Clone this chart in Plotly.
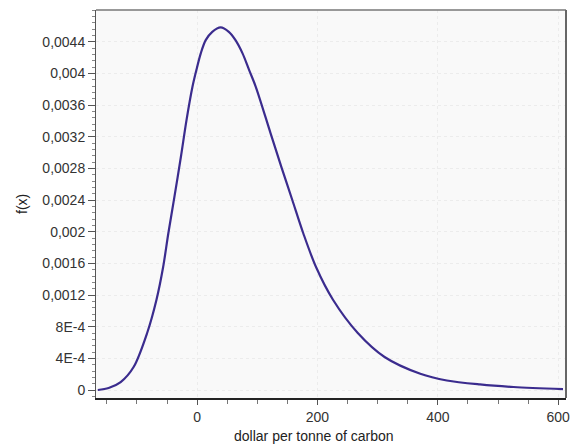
import plotly.graph_objects as go

# values
x_vals = [-165, -147, -127, -105.5, -83, -67.5, -56.5, -47.8, -37.9,
          -26.9, -17.6, -7.7, -1.2, 6.1, 14.3, 25.2, 39.1,
          52.7, 63.8, 75.5, 86.5, 97.5, 122, 140.1,
          158.2, 176.4, 197.8, 225.8, 267, 311.5, 370.9, 415, 470, 525.8, 608]
fx_vals = [0.0, 0.000025, 0.0001, 0.00029, 0.00072, 0.00114, 0.00155, 0.00198, 0.00243,
           0.002946, 0.003409, 0.00383, 0.004041, 0.004252, 0.004419, 0.004524, 0.00458,
           0.004524, 0.004419, 0.004252, 0.004041, 0.00383, 0.003245, 0.002816,
           0.0024, 0.00198, 0.00155, 0.00114, 0.00072, 0.000417, 0.000205, 0.00012, 0.00007, 0.000038, 0.000012]

y_tickvals = [0, 0.0004, 0.0008, 0.0012, 0.0016, 0.002, 0.0024, 0.0028, 0.0032,
              0.0036, 0.004, 0.0044]
y_ticktext = ["0", "4E-4", "8E-4", "0,0012", "0,0016", "0,002", "0,0024", "0,0028",
              "0,0032", "0,0036", "0,004", "0,0044"]
x_tickvals = [0, 200, 400, 600]
x_ticktext = ["0", "200", "400", "600"]

FONT = "Liberation Sans, Arial, sans-serif"

fig = go.Figure()
fig.add_trace(go.Scatter(
    x=x_vals, y=fx_vals, mode="lines",
    line=dict(color="#3b2c8e", width=2.2, shape="spline", smoothing=0.9),
    hoverinfo="skip", showlegend=False,
))

fig.update_layout(
    width=575, height=444,
    margin=dict(l=96, r=5, t=10, b=46),
    paper_bgcolor="white",
    plot_bgcolor="#f9f9f9",
    font=dict(family=FONT, size=14, color="#333333"),
    xaxis=dict(
        range=[-168, 613], tickvals=x_tickvals, ticktext=x_ticktext,
        ticks="outside", ticklen=5, tickcolor="#555555", tickwidth=1,
        showline=True, linecolor="#222222", linewidth=2, mirror=False,
        showgrid=True, gridcolor="#ececec", griddash="dot", gridwidth=1,
        zeroline=False,
        minor=dict(dtick=50, tick0=0, ticks="outside", ticklen=4,
                   tickcolor="#777777", showgrid=False),
        tickfont=dict(size=14, color="#333333"),
    ),
    yaxis=dict(
        range=[-0.000101, 0.0048], tickvals=y_tickvals, ticktext=y_ticktext,
        ticks="outside", ticklen=7, tickcolor="#555555", tickwidth=1,
        showline=True, linecolor="#555555", linewidth=1, mirror=False,
        showgrid=True, gridcolor="#ececec", griddash="dot", gridwidth=1,
        zeroline=False,
        minor=dict(dtick=0.00008, tick0=0, ticks="outside", ticklen=3,
                   tickcolor="#888888", showgrid=False),
        tickfont=dict(size=14, color="#333333"),
    ),
    shapes=[
        dict(type="line", xref="paper", yref="paper", x0=0, x1=1, y0=1, y1=1,
             line=dict(color="#777777", width=1.5)),
        dict(type="line", xref="paper", yref="paper", x0=1, x1=1, y0=0, y1=1,
             line=dict(color="#666666", width=2)),
    ],
    annotations=[
        dict(text="dollar per tonne of carbon", xref="paper", yref="paper",
             x=(316 - 96) / (575 - 96 - 5), y=0, yshift=-38, showarrow=False,
             xanchor="center", yanchor="middle",
             font=dict(family=FONT, size=14, color="#222222")),
        dict(text="f(x)", xref="paper", yref="paper", x=0, xshift=-74,
             y=0.5, textangle=-90, showarrow=False,
             xanchor="center", yanchor="middle",
             font=dict(family=FONT, size=14, color="#222222")),
    ],
)

fig.write_html("out.html", config={"displayModeBar": False},
               post_script="document.body.style.margin='0';document.body.style.overflow='hidden';")
